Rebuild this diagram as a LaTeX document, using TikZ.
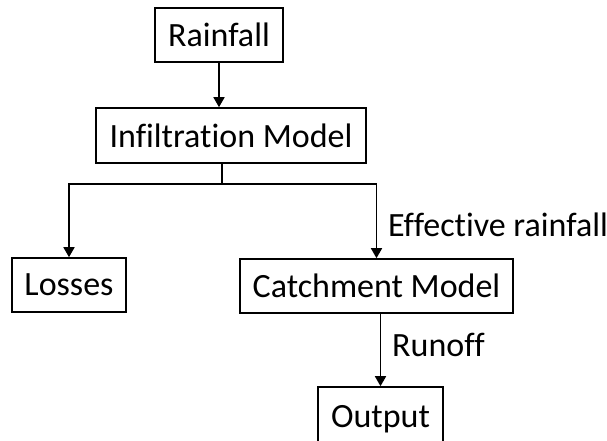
\documentclass[tikz,border=0pt]{standalone}
\usepackage{fontspec}
\setmainfont{Carlito}[Ligatures=NoCommon]
\usetikzlibrary{arrows.meta}
\begin{document}
\begin{tikzpicture}[x=1pt,y=-1pt,
  box/.style={draw,line width=1.6pt,inner sep=0pt,font=\fontsize{34}{40}\selectfont},
  lbl/.style={inner sep=0pt,anchor=west,font=\fontsize{34}{40}\selectfont},
  arr/.style={line width=1.6pt,-{Triangle[width=11pt,length=10pt]}},
  ln/.style={line width=1.6pt}]
\useasboundingbox (0,0) rectangle (607,441);
\clip (0,0) rectangle (607,441);
\node[box,minimum width=128pt,minimum height=54pt] (rain) at (219,35) {Rainfall};
\node[box,minimum width=270pt,minimum height=55pt] (inf) at (231,135.5) {Infiltration Model};
\node[box,minimum width=114pt,minimum height=54pt] (loss) at (69,285) {Losses};
\node[box,minimum width=273pt,minimum height=54pt] (catch) at (376.5,286) {Catchment Model};
\node[box,minimum width=125pt,minimum height=64pt] (out) at (380.5,419) {Output};
\coordinate (split) at (222,184);
\draw[arr] (rain.south) -- (rain.south |- inf.north);
\draw[ln] (inf.south -| split) -- (split);
\draw[arr] (split) -| (loss.north);
\draw[arr] (split) -| (catch.north);
\draw[arr] (catch.south -| out.north) -- (out.north);
\node[lbl] (eff) at (388,225) {Effective rainfall};
\node[lbl] (run) at (392,345) {Runoff};
\end{tikzpicture}
\end{document}
